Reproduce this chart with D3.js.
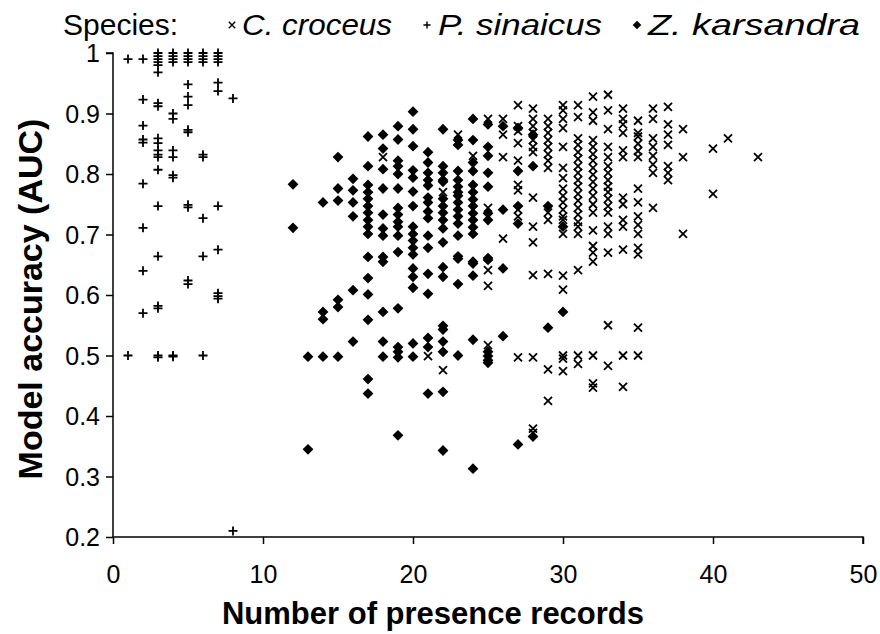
<!DOCTYPE html>
<html>
<head>
<meta charset="utf-8">
<script src="https://cdn.jsdelivr.net/npm/d3@7"></script>
<style>
  html, body { margin: 0; padding: 0; background: #fff; }
  svg { display: block; font-family: "Liberation Sans", Arial, sans-serif; }
</style>
</head>
<body>
<svg id="chart" width="880" height="634"></svg>
<script>
// Tick values on both axes
const xTickValues = [0, 10, 20, 30, 40, 50];
const yTickValues = [0.2, 0.3, 0.4, 0.5, 0.6, 0.7, 0.8, 0.9, 1];

// Species shown in the legend, in order
const speciesNames = ["C. croceus", "P. sinaicus", "Z. karsandra"];

// Model accuracy per number of presence records: [records, list of AUC values]
const croceusCols = [
  [18, [0.828]],
  [21, [0.499]],
  [22, [0.770, 0.476]],
  [23, [0.865]],
  [24, [0.830]],
  [25, [0.891, 0.744, 0.641, 0.615, 0.517]],
  [26, [0.891, 0.865, 0.828, 0.693]],
  [27, [0.914, 0.879, 0.871, 0.851, 0.822, 0.782, 0.773, 0.741, 0.730, 0.497]],
  [28, [0.908, 0.891, 0.879, 0.868, 0.856, 0.845, 0.836, 0.761, 0.713, 0.687, 0.633, 0.497, 0.379, 0.372]],
  [29, [0.891, 0.879, 0.868, 0.856, 0.845, 0.833, 0.822, 0.810, 0.736, 0.724, 0.635, 0.477, 0.425]],
  [30, [0.914, 0.905, 0.891, 0.876, 0.845, 0.810, 0.793, 0.776, 0.764, 0.753, 0.741, 0.730, 0.724, 0.701, 0.632, 0.609, 0.500, 0.495, 0.474]],
  [31, [0.914, 0.894, 0.859, 0.848, 0.836, 0.825, 0.813, 0.802, 0.790, 0.779, 0.767, 0.756, 0.744, 0.733, 0.721, 0.713, 0.701, 0.641, 0.500, 0.486]],
  [32, [0.928, 0.902, 0.888, 0.856, 0.845, 0.833, 0.822, 0.810, 0.799, 0.787, 0.776, 0.764, 0.750, 0.736, 0.707, 0.681, 0.670, 0.655, 0.500, 0.454, 0.447]],
  [33, [0.931, 0.905, 0.874, 0.845, 0.828, 0.813, 0.802, 0.790, 0.779, 0.770, 0.759, 0.747, 0.736, 0.713, 0.701, 0.670, 0.550, 0.483]],
  [34, [0.908, 0.891, 0.882, 0.868, 0.839, 0.828, 0.761, 0.750, 0.724, 0.713, 0.675, 0.500, 0.448]],
  [35, [0.888, 0.868, 0.862, 0.850, 0.838, 0.828, 0.776, 0.753, 0.730, 0.716, 0.701, 0.678, 0.667, 0.546, 0.500]],
  [36, [0.908, 0.891, 0.859, 0.845, 0.830, 0.816, 0.802, 0.744]],
  [37, [0.911, 0.882, 0.865, 0.848, 0.813, 0.802, 0.790]],
  [38, [0.874, 0.828, 0.701]],
  [40, [0.842, 0.767]],
  [41, [0.859]],
  [43, [0.828]]
];

const sinaicusCols = [
  [1, [0.99, 0.5]],
  [2, [0.99, 0.923, 0.88, 0.857, 0.852, 0.784, 0.711, 0.64, 0.57]],
  [3, [1.0, 0.995, 0.99, 0.985, 0.98, 0.968, 0.917, 0.912, 0.859, 0.851, 0.839, 0.832, 0.828, 0.807, 0.747, 0.664, 0.582, 0.578, 0.5, 0.497]],
  [4, [1.0, 0.995, 0.99, 0.985, 0.9, 0.891, 0.839, 0.828, 0.798, 0.794, 0.5, 0.498]],
  [5, [1.0, 0.995, 0.99, 0.985, 0.948, 0.928, 0.914, 0.873, 0.869, 0.749, 0.745, 0.624, 0.618]],
  [6, [1.0, 0.995, 0.99, 0.985, 0.832, 0.828, 0.727, 0.664, 0.5]],
  [7, [1.0, 0.995, 0.99, 0.985, 0.951, 0.937, 0.747, 0.675, 0.603, 0.598, 0.594]],
  [8, [0.925, 0.21]]
];

const karsandraCols = [
  [12, [0.783, 0.711]],
  [13, [0.498, 0.345]],
  [14, [0.753, 0.572, 0.560, 0.498]],
  [15, [0.828, 0.776, 0.756, 0.592, 0.580, 0.498]],
  [16, [0.792, 0.773, 0.753, 0.730, 0.608, 0.523]],
  [17, [0.862, 0.813, 0.782, 0.770, 0.759, 0.747, 0.736, 0.724, 0.713, 0.701, 0.663, 0.628, 0.601, 0.559, 0.461, 0.437]],
  [18, [0.865, 0.842, 0.808, 0.776, 0.733, 0.710, 0.698, 0.663, 0.655, 0.572, 0.523, 0.498]],
  [19, [0.879, 0.857, 0.822, 0.813, 0.800, 0.776, 0.744, 0.733, 0.721, 0.713, 0.698, 0.671, 0.578, 0.514, 0.506, 0.497, 0.368]],
  [20, [0.903, 0.874, 0.846, 0.806, 0.794, 0.771, 0.747, 0.713, 0.701, 0.690, 0.678, 0.667, 0.644, 0.630, 0.612, 0.520, 0.498]],
  [21, [0.836, 0.819, 0.802, 0.790, 0.781, 0.761, 0.753, 0.738, 0.727, 0.698, 0.678, 0.635, 0.602, 0.529, 0.514, 0.437]],
  [22, [0.874, 0.813, 0.802, 0.790, 0.787, 0.759, 0.747, 0.736, 0.724, 0.710, 0.687, 0.646, 0.630, 0.549, 0.543, 0.523, 0.506, 0.440, 0.343]],
  [23, [0.856, 0.848, 0.805, 0.790, 0.779, 0.770, 0.764, 0.753, 0.741, 0.730, 0.718, 0.698, 0.664, 0.660, 0.618, 0.500]],
  [24, [0.891, 0.856, 0.819, 0.805, 0.782, 0.770, 0.758, 0.747, 0.735, 0.724, 0.712, 0.701, 0.655, 0.652, 0.632, 0.526, 0.313]],
  [25, [0.882, 0.845, 0.830, 0.802, 0.779, 0.735, 0.724, 0.661, 0.658, 0.506, 0.499, 0.492, 0.488]],
  [26, [0.879, 0.741, 0.644, 0.532]],
  [27, [0.876, 0.805, 0.747, 0.718, 0.353]],
  [28, [0.865, 0.813, 0.366]],
  [29, [0.747, 0.546]],
  [30, [0.713, 0.572]]
];

const flatten = cols => cols.flatMap(([n, vals]) => vals.map(v => ({ n, auc: v })));
const croceus = flatten(croceusCols);
const sinaicus = flatten(sinaicusCols);
const karsandra = flatten(karsandraCols);

const svg = d3.select("#chart");
const margin = { left: 113, right: 17, top: 53, bottom: 97 };
const W = 880, H = 634;

const x = d3.scaleLinear().domain([0, 50]).range([margin.left, W - margin.right]);
const y = d3.scaleLinear().domain([0.2, 1]).range([H - margin.bottom, margin.top]);

// Marker shapes
const shapes = {
  cross: "M-4,-4L4,4M4,-4L-4,4",
  plus: "M-4.5,0H4.5M0,-4.5V4.5",
  diamond: "M0,-5.4L5.4,0L0,5.4L-5.4,0Z"
};

const tickFont = "25px";

// Y axis
const yAxis = d3.axisLeft(y)
  .tickValues(yTickValues)
  .tickSize(7)
  .tickFormat(d => d === 1 ? "1" : d3.format(".1f")(d));
const gy = svg.append("g").attr("transform", `translate(${margin.left},0)`).call(yAxis);
gy.select(".domain").attr("stroke", "#000").attr("stroke-width", 1.5).attr("d", `M-7,${y(1)}H0V${y(0.2)}`);
gy.selectAll(".tick line").attr("stroke", "#000").attr("stroke-width", 1.5);
gy.selectAll(".tick text").attr("x", -13).attr("dy", "0.35em")
  .style("font-size", tickFont).style("font-family", "Liberation Sans, Arial, sans-serif").attr("fill", "#000");

// X axis
const xAxis = d3.axisBottom(x).tickValues(xTickValues).tickSize(7).tickFormat(d3.format("d"));
const gx = svg.append("g").attr("transform", `translate(0,${y(0.2)})`).call(xAxis);
gx.select(".domain").attr("stroke", "#000").attr("stroke-width", 1.5).attr("d", `M${x(0)},0H${x(50)}V7`);
gx.selectAll(".tick line").attr("stroke", "#000").attr("stroke-width", 1.5);
gx.selectAll(".tick text").attr("y", 28).attr("dy", "0.71em")
  .style("font-size", tickFont).style("font-family", "Liberation Sans, Arial, sans-serif").attr("fill", "#000");

// Axis titles
svg.append("text")
  .attr("x", 433).attr("y", 624)
  .attr("text-anchor", "middle")
  .style("font-size", "31px").style("font-weight", "bold")
  .text("Number of presence records");

svg.append("text")
  .attr("transform", `translate(42,${(y(0.2) + y(1)) / 2 + 4}) rotate(-90)`)
  .attr("text-anchor", "middle")
  .style("font-size", "34px").style("font-weight", "bold")
  .text("Model accuracy (AUC)");

// Points
const plot = svg.append("g");
function drawSeries(data, shape, filled) {
  plot.append("g").selectAll("path").data(data).join("path")
    .attr("transform", d => `translate(${x(d.n)},${y(d.auc)})`)
    .attr("d", shapes[shape])
    .attr("fill", filled ? "#000" : "none")
    .attr("stroke", filled ? "none" : "#000")
    .attr("stroke-width", 1.8);
}
drawSeries(karsandra, "diamond", true);
drawSeries(croceus, "cross", false);
drawSeries(sinaicus, "plus", false);

// Legend
const legend = svg.append("g").style("font-size", "30px");
legend.append("text").attr("x", 63).attr("y", 35).text("Species:");
const legendItems = [
  { shape: "cross", filled: false, mx: 232, tx: 242, len: 150 },
  { shape: "plus", filled: false, mx: 427, tx: 438, len: 164 },
  { shape: "diamond", filled: true, mx: 637, tx: 648, len: 212 }
];
legendItems.forEach((it, i) => {
  legend.append("path")
    .attr("transform", `translate(${it.mx},25) scale(0.8)`)
    .attr("d", shapes[it.shape])
    .attr("fill", it.filled ? "#000" : "none")
    .attr("stroke", it.filled ? "none" : "#000")
    .attr("stroke-width", 1.8);
  legend.append("text").attr("x", it.tx).attr("y", 35)
    .style("font-style", "italic")
    .attr("textLength", it.len).attr("lengthAdjust", "spacingAndGlyphs")
    .text(speciesNames[i]);
});
</script>
</body>
</html>
